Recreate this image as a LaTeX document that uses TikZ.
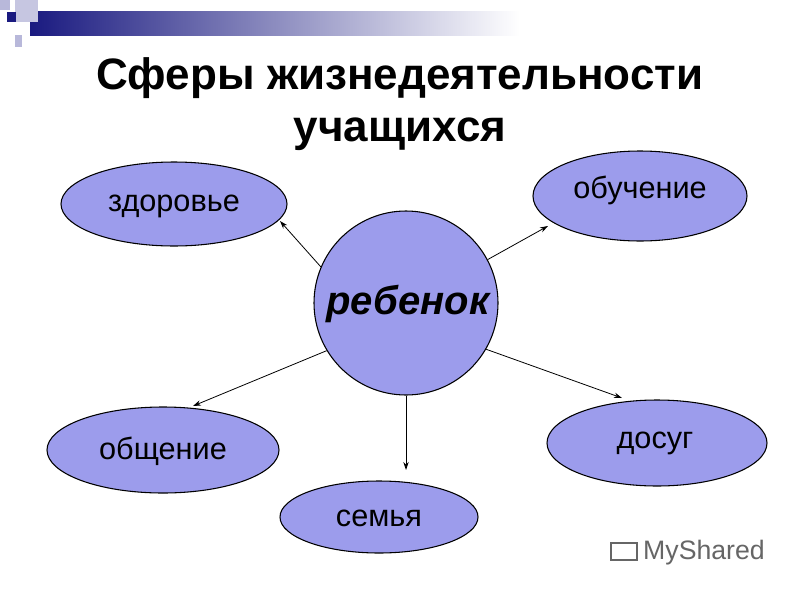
\documentclass[tikz,border=0pt]{standalone}
\usepackage{fontspec}
\setmainfont{Liberation Sans}
\usetikzlibrary{shapes.geometric,arrows.meta}
\definecolor{fillc}{HTML}{9C9CEC}
\definecolor{navy}{HTML}{1A1A80}
\definecolor{lsq}{HTML}{B8B8DA}
\begin{document}
\begin{tikzpicture}[x=0.75pt,y=-0.75pt,
  ell/.style={ellipse,draw=black,fill=fillc,line width=0.8pt,inner sep=0pt},
  lab/.style={font=\fontsize{23}{26}\selectfont},
  arr/.style={-{Stealth[length=6pt,width=4pt]},line width=0.6pt}]
\useasboundingbox (0,0) rectangle (800,600);
\fill[white] (0,0) rectangle (800,600);
% header decoration
\shade[left color=navy,right color=white] (30,11) rectangle (520,35);
\fill[white] (520,11) rectangle (800,35);
\fill[lsq] (0,0) rectangle (10,10);
\fill[lsq!80] (15,0) rectangle (38,22);
\fill[navy] (7,12) rectangle (16,22);
\fill[lsq] (15,35) rectangle (22,47);
% title
\node (t) at (400,104) [align=center,font=\bfseries\fontsize{33}{39}\selectfont] {Сферы жизнедеятельности\\учащихся};
% nodes
\node[ell,minimum width=226pt*0.75,minimum height=84pt*0.75] (z) at (174,204) {};
\node[lab] at (174,206) {здоровье};
\node[ell,minimum width=214pt*0.75,minimum height=90pt*0.75] (o) at (640,196) {};
\node[lab] at (640,190) {обучение};
\node[ell,minimum width=232pt*0.75,minimum height=86pt*0.75] (ob) at (163,450) {};
\node[lab] at (163,451) {общение};
\node[ell,minimum width=220pt*0.75,minimum height=86pt*0.75] (d) at (657,443) {};
\node[lab] at (655,443) {досуг};
\node[ell,minimum width=198pt*0.75,minimum height=72pt*0.75] (s) at (379,517) {};
\node[lab] at (379,518) {семья};
\node[circle,draw=black,fill=fillc,line width=0.8pt,minimum size=184pt*0.75,inner sep=0pt] (r) at (406,303) {};
\node[font=\bfseries\itshape\fontsize{30}{33}\selectfont] at (408,304) {ребенок};
% arrow endpoints
\coordinate (ez) at (280,221);
\coordinate (eo) at (548,226);
\coordinate (eob) at (193,406);
\coordinate (ed) at (622,398);
\coordinate (es) at (406,470);
\draw[arr] (r.157) -- (ez);
\draw[arr] (r.28) -- (eo);
\draw[arr] (r.211) -- (eob);
\draw[arr] (r.-30) -- (ed);
\draw[arr] (r.270) -- (es);
% watermark
\node[text=gray!80!black,font=\fontsize{20}{22}\selectfont] (w) at (704,553) {MyShared};
\draw[gray!80!black,line width=0.8pt] (611,543) rectangle (637,560);
\end{tikzpicture}
\end{document}
